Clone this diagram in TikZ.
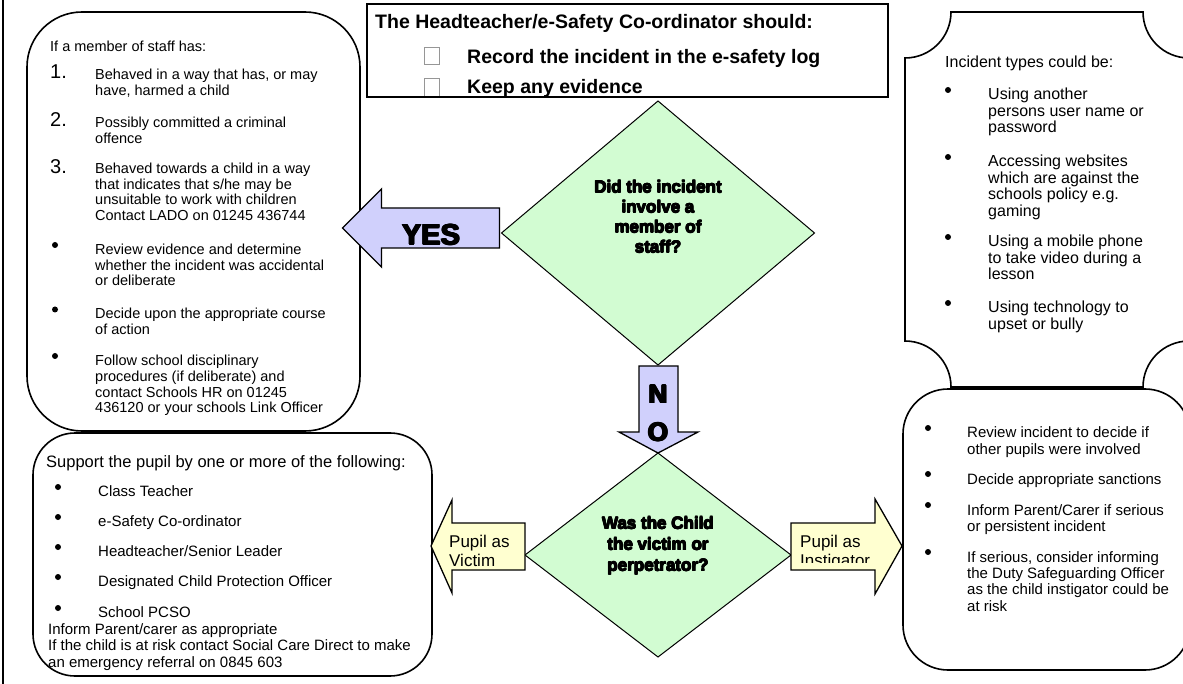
\documentclass[tikz,border=0pt]{standalone}
\usepackage{fontspec}
\setmainfont{Liberation Sans}
\usetikzlibrary{shapes.geometric}
\definecolor{lav}{RGB}{208,208,252}
\definecolor{mint}{RGB}{210,252,210}
\definecolor{cream}{RGB}{255,255,208}
\definecolor{boxgrey}{RGB}{150,150,150}
\newcommand\fatA[1]{\leavevmode\rlap{\kern1.0pt#1}\rlap{\kern0.5pt#1}\rlap{\kern0.25pt\raisebox{0.35pt}{#1}}\rlap{\kern0.75pt\raisebox{0.35pt}{#1}}\rlap{\kern0.25pt\raisebox{-0.35pt}{#1}}\rlap{\kern0.75pt\raisebox{-0.35pt}{#1}}#1\kern1.0pt}
\newcommand\fatB[1]{\leavevmode\rlap{\kern1.8pt#1}\rlap{\kern0.9pt#1}\rlap{\kern0.45pt\raisebox{0.6pt}{#1}}\rlap{\kern1.35pt\raisebox{0.6pt}{#1}}\rlap{\kern0.45pt\raisebox{-0.6pt}{#1}}\rlap{\kern1.35pt\raisebox{-0.6pt}{#1}}#1\kern1.8pt}
\begin{document}
\begin{tikzpicture}[x=1pt,y=-1pt,
  txt/.style={anchor=base west, inner sep=0pt, font=\fontsize{14.5}{16}\selectfont},
  txtb/.style={anchor=base west, inner sep=0pt, font=\fontsize{15}{16}\selectfont},
  txtp/.style={anchor=base west, inner sep=0pt, font=\fontsize{16}{17}\selectfont},
  txta/.style={anchor=base west, inner sep=0pt, font=\fontsize{17}{19}\selectfont},
  num/.style={anchor=base west, inner sep=0pt, font=\fontsize{20}{22}\selectfont},
  ttl/.style={anchor=base west, inner sep=0pt, font=\fontsize{19.5}{22}\selectfont\bfseries},
  dtxt/.style={anchor=base, inner sep=0pt, font=\fontsize{17}{20}\selectfont\bfseries},
  bigt/.style={anchor=base, inner sep=0pt, font=\fontsize{29}{32}\selectfont\bfseries},
  not/.style={anchor=base, inner sep=0pt, font=\fontsize{26}{29}\selectfont\bfseries},
  bul/.style={circle, fill=black, inner sep=0pt, minimum size=6pt},
  frame/.style={draw=black, line width=1.6pt},
  rbox/.style={frame, anchor=north west, inner sep=0pt, outer sep=0pt},
  diam/.style={diamond, draw=black, fill=mint, line width=1pt, inner sep=0pt, outer sep=0pt},
  blk/.style={draw=black, line width=1.3pt, line join=miter},
  chk/.style={draw=boxgrey, line width=0.8pt}
]
\useasboundingbox (0,0) rectangle (1183,684);
\fill[white] (0,0) rectangle (1183,684);
\clip (0,0) rectangle (1183,684);

% left page frame line
\coordinate (ftop) at (3,0);
\coordinate (fbot) at (3,684);
\draw[line width=2pt] (ftop) -- (fbot);

% ---------- boxes ----------
\node[rbox, rounded corners=55pt, minimum width=333pt, minimum height=419pt] (staff) at (27,12) {};
\node[rbox, minimum width=521pt, minimum height=93pt] (head) at (367,4) {};
\node[rbox, rounded corners=42pt, minimum width=399pt, minimum height=243pt] (victim) at (33,433) {};
\node[rbox, rounded corners=45pt, minimum width=287pt, minimum height=281pt] (instig) at (903,389) {};

% plaque shape (incident types)
\draw[frame] (905,58) .. controls (930.4,58) and (951,37.4) .. (951,12)
  -- (1143,12) .. controls (1143,37.4) and (1163.6,58) .. (1189,58)
  -- (1189,341) .. controls (1163.6,341) and (1143,361.6) .. (1143,387)
  -- (951,387) .. controls (951,361.6) and (930.4,341) .. (905,341) -- cycle;

% ---------- diamonds ----------
\node[diam, minimum width=313pt, minimum height=264pt] (q1) at (658,233) {};
\node[diam, minimum width=266pt, minimum height=204pt] (q2) at (658,555) {};

% ---------- block arrows ----------
\filldraw[blk, fill=lav, shift={(q1.west)}] (-2,-25) -- (-120,-25) -- (-120,-44) -- (-159,-5) -- (-120,34) -- (-120,15) -- (-2,15) -- cycle;
\filldraw[blk, fill=lav, shift={(q1.south)}] (-19,1) -- (20,1) -- (20,67) -- (40,67) -- (0,88) -- (-39,67) -- (-19,67) -- cycle;
\filldraw[blk, fill=cream, shift={(q2.west)}] (0,-32) -- (-73,-32) -- (-73,-55) -- (-94,-9) -- (-73,38) -- (-73,15) -- (0,15) -- cycle;
\filldraw[blk, fill=cream, shift={(q2.east)}] (0,-32) -- (84,-32) -- (84,-56) -- (111,-9) -- (84,39) -- (84,15) -- (0,15) -- cycle;

\node[bigt] (yes) at (431,245) {\fatB{YES}};
\node[not] (nN) at (658,403) {\fatB{N}};
\node[not] (nO) at (658,441) {\fatB{O}};

\begin{scope}
\clip (440,500) rectangle (526,568);
\node[txta] (pv1) at (449,547) {Pupil as};
\node[txta] (pv2) at (449,566) {Victim};
\end{scope}
\begin{scope}
\clip (792,500) rectangle (880,562);
\node[txta] (pi1) at (800,547) {Pupil as};
\node[txta] (pi2) at (800,566) {Instigator};
\end{scope}

% diamond texts
\node[dtxt] (d1a) at (658,193) {\fatA{Did the incident}};
\node[dtxt] (d1b) at (658,213) {\fatA{involve a}};
\node[dtxt] (d1c) at (658,233) {\fatA{member of}};
\node[dtxt] (d1d) at (658,253) {\fatA{staff?}};
\node[dtxt] (d2a) at (658,529) {\fatA{Was the Child}};
\node[dtxt] (d2b) at (658,550) {\fatA{the victim or}};
\node[dtxt] (d2c) at (658,571) {\fatA{perpetrator?}};

% ---------- top box ----------
\node[ttl] (t0) at (375,29) {The Headteacher/e-Safety Co-ordinator should:};
\draw[chk] (424,47) rectangle (439,64);
\node[ttl] (t1) at (467,64) {Record the incident in the e-safety log};
\begin{scope}
\clip (368,5) rectangle (887,95.5);
\draw[chk] (424,78) rectangle (439,100);
\node[ttl] (t2) at (467,94) {Keep any evidence};
\end{scope}

% ---------- staff box ----------
\node[txt] (s0) at (50,52) {If a member of staff has:};
\node[num] (n1) at (50,79) {1.};
\node[txt] (s1a) at (95,80) {Behaved in a way that has, or may};
\node[txt] (s1b) at (95,96) {have, harmed a child};
\node[num] (n2) at (50,127) {2.};
\node[txt] (s2a) at (95,128) {Possibly committed a criminal};
\node[txt] (s2b) at (95,144) {offence};
\node[num] (n3) at (50,174) {3.};
\node[txt] (s3a) at (95,174) {Behaved towards a child in a way};
\node[txt] (s3b) at (95,189.5) {that indicates that s/he may be};
\node[txt] (s3c) at (95,205) {unsuitable to work with children};
\node[txt] (s3d) at (95,220.5) {Contact LADO on 01245 436744};
\node[bul] (sb1) at (55,245) {};
\node[txt] (s4a) at (95,255) {Review evidence and determine};
\node[txt] (s4b) at (95,270.5) {whether the incident was accidental};
\node[txt] (s4c) at (95,286) {or deliberate};
\node[bul] (sb2) at (55,309.5) {};
\node[txt] (s5a) at (95,319) {Decide upon the appropriate course};
\node[txt] (s5b) at (95,334.5) {of action};
\node[bul] (sb3) at (55,356) {};
\node[txt] (s6a) at (95,366) {Follow school disciplinary};
\node[txt] (s6b) at (95,381.5) {procedures (if deliberate) and};
\node[txt] (s6c) at (95,397) {contact Schools HR on 01245};
\node[txt] (s6d) at (95,412.5) {436120 or your schools Link Officer};

% ---------- incident types ----------
\node[txtp] (i0) at (945,68) {Incident types could be:};
\node[bul] (ib1) at (948,90) {};
\node[txtp] (i1a) at (988,100) {Using another};
\node[txtp] (i1b) at (988,116.5) {persons user name or};
\node[txtp] (i1c) at (988,133) {password};
\node[bul] (ib2) at (948,157) {};
\node[txtp] (i2a) at (988,167) {Accessing websites};
\node[txtp] (i2b) at (988,183.5) {which are against the};
\node[txtp] (i2c) at (988,200) {schools policy e.g.};
\node[txtp] (i2d) at (988,216.5) {gaming};
\node[bul] (ib3) at (948,237) {};
\node[txtp] (i3a) at (988,247) {Using a mobile phone};
\node[txtp] (i3b) at (988,263.5) {to take video during a};
\node[txtp] (i3c) at (988,280) {lesson};
\node[bul] (ib4) at (948,303) {};
\node[txtp] (i4a) at (988,313) {Using technology to};
\node[txtp] (i4b) at (988,329.5) {upset or bully};

% ---------- pupil as instigator ----------
\node[bul] (rb1) at (928,428) {};
\node[txtb] (r1a) at (967,437.5) {Review incident to decide if};
\node[txtb] (r1b) at (967,454) {other pupils were involved};
\node[bul] (rb2) at (928,474) {};
\node[txtb] (r2a) at (967,484.5) {Decide appropriate sanctions};
\node[bul] (rb3) at (928,505) {};
\node[txtb] (r3a) at (967,515.5) {Inform Parent/Carer if serious};
\node[txtb] (r3b) at (967,531.5) {or persistent incident};
\node[bul] (rb4) at (928,552) {};
\node[txtb] (r4a) at (967,562.5) {If serious, consider informing};
\node[txtb] (r4b) at (967,578.5) {the Duty Safeguarding Officer};
\node[txtb] (r4c) at (967,594.5) {as the child instigator could be};
\node[txtb] (r4d) at (967,611) {at risk};

% ---------- pupil as victim ----------
\node[anchor=base west, inner sep=0pt, font=\fontsize{16.5}{18}\selectfont] (v0) at (46,467.5) {Support the pupil by one or more of the following:};
\node[bul] (vb1) at (58,487) {};
\node[txtb] (v1) at (98,496.5) {Class Teacher};
\node[bul] (vb2) at (58,517) {};
\node[txtb] (v2) at (98,526.5) {e-Safety Co-ordinator};
\node[bul] (vb3) at (58,547) {};
\node[txtb] (v3) at (98,556.5) {Headteacher/Senior Leader};
\node[bul] (vb4) at (58,577) {};
\node[txtb] (v4) at (98,586.5) {Designated Child Protection Officer};
\node[bul] (vb5) at (58,608) {};
\node[txtb] (v5) at (98,617.5) {School PCSO};
\node[txtb] (v6) at (48,634.5) {Inform Parent/carer as appropriate};
\node[txtb] (v7) at (48,650.5) {If the child is at risk contact Social Care Direct to make};
\begin{scope}
\clip (34,600) rectangle (431,671);
\node[txtb] (v8) at (48,667.5) {an emergency referral on 0845 603};
\end{scope}
\end{tikzpicture}
\end{document}
